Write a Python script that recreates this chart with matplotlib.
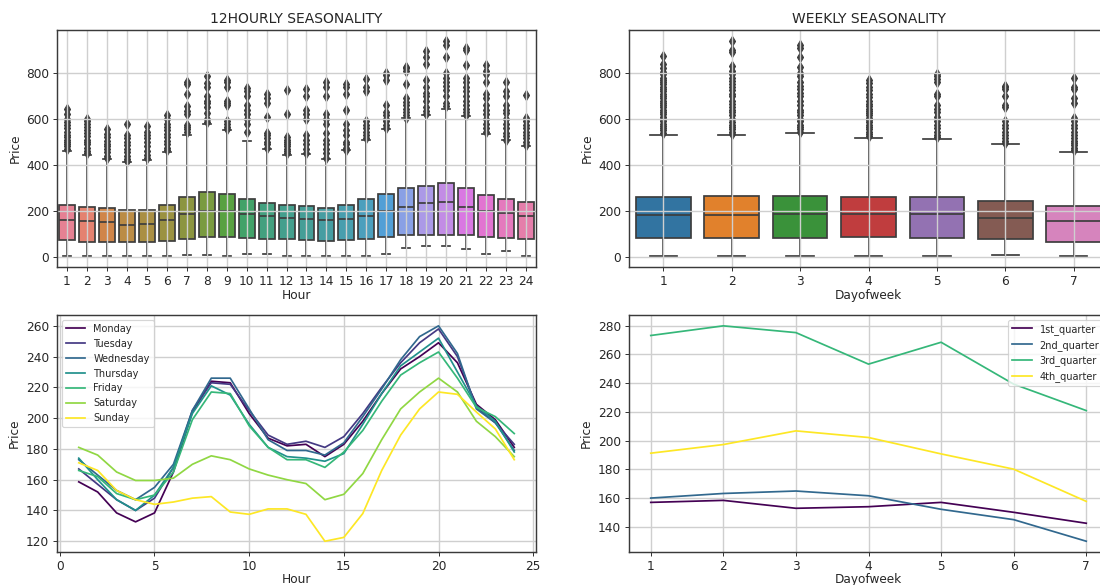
import numpy as np
import seaborn as sns
import matplotlib
matplotlib.use('Agg')
from matplotlib import pyplot as plt

# ---- data ----
hours = list(range(1, 25))
h_med = [158, 155, 149, 137, 142, 159, 187, 201, 201, 187, 177, 168,
         162, 158, 163, 175, 198, 218, 233, 240, 218, 198, 190, 179]
h_q1 = [72, 65, 62, 62, 62, 68, 77, 85, 87, 80, 77, 77,
        72, 68, 72, 78, 87, 93, 93, 94, 93, 87, 81, 75]
h_q3 = [227, 217, 210, 203, 205, 227, 260, 282, 275, 253, 233, 227,
        220, 214, 227, 250, 275, 297, 307, 320, 301, 269, 250, 237]
h_lo = [2, 2, 2, 2, 2, 2, 7, 7, 3, 10, 10, 5,
        5, 2, 2, 2, 10, 37, 48, 48, 35, 10, 26, 2]
h_hi = [460, 444, 424, 412, 423, 457, 531, 579, 550, 504, 470, 444,
        446, 425, 463, 509, 557, 602, 618, 644, 611, 535, 506, 482]
h_fliers = [
    [470, 480, 490, 500, 510, 520, 530, 545, 560, 575, 585, 600, 620, 645],
    [450, 460, 475, 490, 500, 510, 525, 540, 550, 565, 580, 590, 600],
    [430, 440, 455, 470, 480, 490, 505, 520, 535, 558],
    [418, 425, 440, 455, 470, 485, 500, 515, 530, 580],
    [430, 445, 460, 480, 500, 515, 530, 545, 570],
    [465, 475, 490, 505, 520, 535, 550, 565, 580, 600, 615],
    [545, 555, 565, 575, 620, 635, 655, 710, 750, 760],
    [585, 600, 625, 650, 670, 680, 700, 740, 755, 785],
    [555, 565, 580, 590, 660, 670, 680, 740, 760, 770],
    [545, 580, 600, 620, 640, 660, 700, 720, 735],
    [475, 490, 500, 515, 530, 540, 610, 670, 690, 710],
    [450, 460, 470, 480, 490, 500, 510, 520, 620, 725],
    [450, 470, 490, 510, 530, 600, 620, 640, 700, 730],
    [430, 450, 470, 490, 510, 540, 580, 600, 620, 700, 740, 760],
    [465, 475, 490, 500, 530, 550, 580, 640, 710, 740, 750],
    [515, 530, 545, 560, 575, 590, 720, 740, 775],
    [560, 575, 590, 600, 615, 630, 660, 770, 790, 800],
    [605, 615, 630, 645, 660, 675, 690, 750, 810, 820, 825],
    [620, 635, 650, 680, 700, 715, 740, 770, 840, 870, 895],
    [655, 670, 700, 725, 745, 760, 780, 800, 870, 920, 940],
    [615, 630, 645, 660, 680, 700, 720, 740, 760, 780, 835, 900, 910],
    [545, 560, 580, 600, 620, 640, 660, 690, 710, 760, 795, 810, 835],
    [510, 525, 540, 560, 580, 600, 625, 640, 660, 700, 720, 760],
    [485, 500, 515, 530, 545, 560, 575, 590, 605, 705],
]

days = list(range(1, 8))
d_med = [181, 181, 188, 184, 184, 168, 155]
d_q1 = [80, 82, 82, 85, 82, 75, 65]
d_q3 = [260, 263, 266, 260, 258, 243, 220]
d_lo = [2, 2, 2, 2, 2, 8, 2]
d_hi = [531, 528, 538, 517, 514, 489, 456]
d_fliers = [
    [540, 550, 560, 570, 580, 590, 600, 610, 620, 630, 640, 650, 660, 670, 680,
     690, 700, 710, 720, 730, 740, 750, 760, 770, 780, 795, 805, 820, 840, 873],
    [535, 545, 555, 565, 575, 585, 600, 615, 630, 640, 650, 665, 680, 700, 710,
     725, 740, 750, 765, 780, 795, 810, 830, 890, 900, 940],
    [545, 555, 565, 575, 590, 600, 615, 630, 640, 660, 680, 700, 715, 730, 745,
     760, 785, 800, 825, 870, 910, 920],
    [525, 535, 545, 555, 565, 575, 585, 595, 605, 615, 625, 635, 645, 655, 665,
     680, 695, 710, 725, 740, 755, 770],
    [520, 530, 545, 560, 575, 590, 610, 630, 645, 660, 700, 710, 760, 775, 785, 795],
    [495, 505, 515, 530, 545, 560, 575, 590, 650, 660, 700, 730, 740, 745],
    [465, 475, 485, 495, 505, 515, 530, 545, 560, 575, 590, 605, 670, 690, 730, 740, 780],
]

weekdays = ['Monday', 'Tuesday', 'Wednesday', 'Thursday', 'Friday', 'Saturday', 'Sunday']
hourly_by_day = [
    [158.6, 152, 138.4, 132.6, 138.4, 165, 204, 224, 223, 203, 187, 182,
     183, 175, 183, 198, 216, 232, 240, 249, 236, 209, 199, 181],
    [167, 157, 147, 140, 148, 168, 205, 223, 222, 205, 189, 183,
     185, 181, 188, 203, 220, 236, 249, 258, 240, 207, 197, 183],
    [173, 163, 153, 147, 155, 170, 205, 226, 226, 206, 186, 179,
     179, 176, 184, 201, 219, 238, 253, 260, 242, 206, 197, 179],
    [174, 160, 147, 140, 150, 168, 203, 221, 215, 196, 181, 175,
     174, 172, 177, 196, 216, 234, 243, 252, 230, 208, 198, 178],
    [166, 162, 151, 147, 150, 165, 199, 217, 216, 195, 181, 173,
     173, 168, 178, 192, 211, 228, 236, 243, 226, 207, 201, 190],
    [181, 176, 165, 159.5, 159.5, 161, 170, 175.5, 173, 167, 163, 160,
     157.5, 147, 150.5, 164, 186, 206, 217, 226, 217, 198, 188, 175],
    [171, 166, 153, 147, 144, 145.5, 148, 149, 139, 137.5, 141, 141,
     137.5, 120, 122.5, 138, 166, 189, 206, 217, 215.5, 204, 193, 173],
]

quarters = ['1st_quarter', '2nd_quarter', '3rd_quarter', '4th_quarter']
daily_by_quarter = [
    [157.1, 158.5, 153.0, 154.1, 157.1, 150.2, 142.6],
    [160.1, 163.3, 165.0, 161.7, 152.3, 145.1, 130.1],
    [273.1, 279.8, 275.1, 253.2, 268.4, 239.3, 220.9],
    [191.3, 197.3, 206.8, 202.2, 190.8, 180.2, 157.8],
]

# ---- style ----
plt.rcParams['axes.grid'] = True
plt.rcParams['grid.color'] = '#cfcfcf'
plt.rcParams['grid.linewidth'] = 1.2
plt.rcParams['axes.edgecolor'] = '#3a3a3a'
plt.rcParams['axes.linewidth'] = 1.25
plt.rcParams['text.color'] = '#262626'
plt.rcParams['axes.labelcolor'] = '#262626'
plt.rcParams['xtick.color'] = '#262626'
plt.rcParams['ytick.color'] = '#262626'
plt.rcParams['axes.labelsize'] = 10.5
plt.rcParams['xtick.labelsize'] = 10.5
plt.rcParams['ytick.labelsize'] = 10.5

dpi = 83
fig = plt.figure(figsize=(1100 / dpi, 585 / dpi), dpi=dpi)

w = 0.4355
h = 0.405
ax1 = fig.add_axes([0.0518, 0.5436, w, h])
ax2 = fig.add_axes([0.5718, 0.5436, w, h])
ax3 = fig.add_axes([0.0518, 0.0564, w, h])
ax4 = fig.add_axes([0.5718, 0.0564, w, h])

edge = '#3d3d3d'


def draw_box(ax, med, q1, q3, lo, hi, fliers, colors):
    stats = []
    for i in range(len(med)):
        stats.append(dict(med=med[i], q1=q1[i], q3=q3[i], whislo=lo[i],
                          whishi=hi[i], fliers=fliers[i]))
    bp = ax.bxp(stats, positions=range(len(med)), widths=0.8, patch_artist=True,
                zorder=1, manage_ticks=False,
                boxprops=dict(edgecolor=edge, linewidth=1.5),
                medianprops=dict(color=edge, linewidth=1.5),
                whiskerprops=dict(color=edge, linewidth=1.5),
                capprops=dict(color=edge, linewidth=1.5),
                capwidths=0.4,
                flierprops=dict(marker='d', markerfacecolor=edge,
                                markeredgecolor=edge, markersize=6))
    for patch, c in zip(bp['boxes'], colors):
        patch.set_facecolor(c)
    ax.set_xlim(-0.5, len(med) - 0.5)


draw_box(ax1, h_med, h_q1, h_q3, h_lo, h_hi, h_fliers,
         sns.color_palette('husl', 24, desat=0.75))
ax1.set_xticks(range(24))
ax1.set_xticklabels(hours)
ax1.set_yticks([0, 200, 400, 600, 800])
ax1.set_title('12HOURLY SEASONALITY')
ax1.set_xlabel('Hour', labelpad=1)
ax1.set_ylabel('Price')

draw_box(ax2, d_med, d_q1, d_q3, d_lo, d_hi, d_fliers,
         sns.color_palette('tab10', 7, desat=0.75))
ax2.set_xticks(range(7))
ax2.set_xticklabels(days)
ax2.set_yticks([0, 200, 400, 600, 800])
ax2.set_title('WEEKLY SEASONALITY')
ax2.set_xlabel('Dayofweek', labelpad=1)
ax2.set_ylabel('Price')

cols7 = plt.cm.viridis(np.linspace(0, 1, 7))
for name, vals, c in zip(weekdays, hourly_by_day, cols7):
    ax3.plot(hours, vals, color=c, label=name)
ax3.legend(loc='upper left', fontsize=8.5)
ax3.set_xlabel('Hour', labelpad=0)
ax3.set_ylabel('Price')

cols4 = plt.cm.viridis(np.linspace(0, 1, 4))
for name, vals, c in zip(quarters, daily_by_quarter, cols4):
    ax4.plot(days, vals, color=c, label=name)
ax4.legend(loc='upper right', fontsize=8.5)
ax4.set_xlabel('Dayofweek', labelpad=0)
ax4.set_ylabel('Price')

fig.savefig('out.png', dpi=dpi)
